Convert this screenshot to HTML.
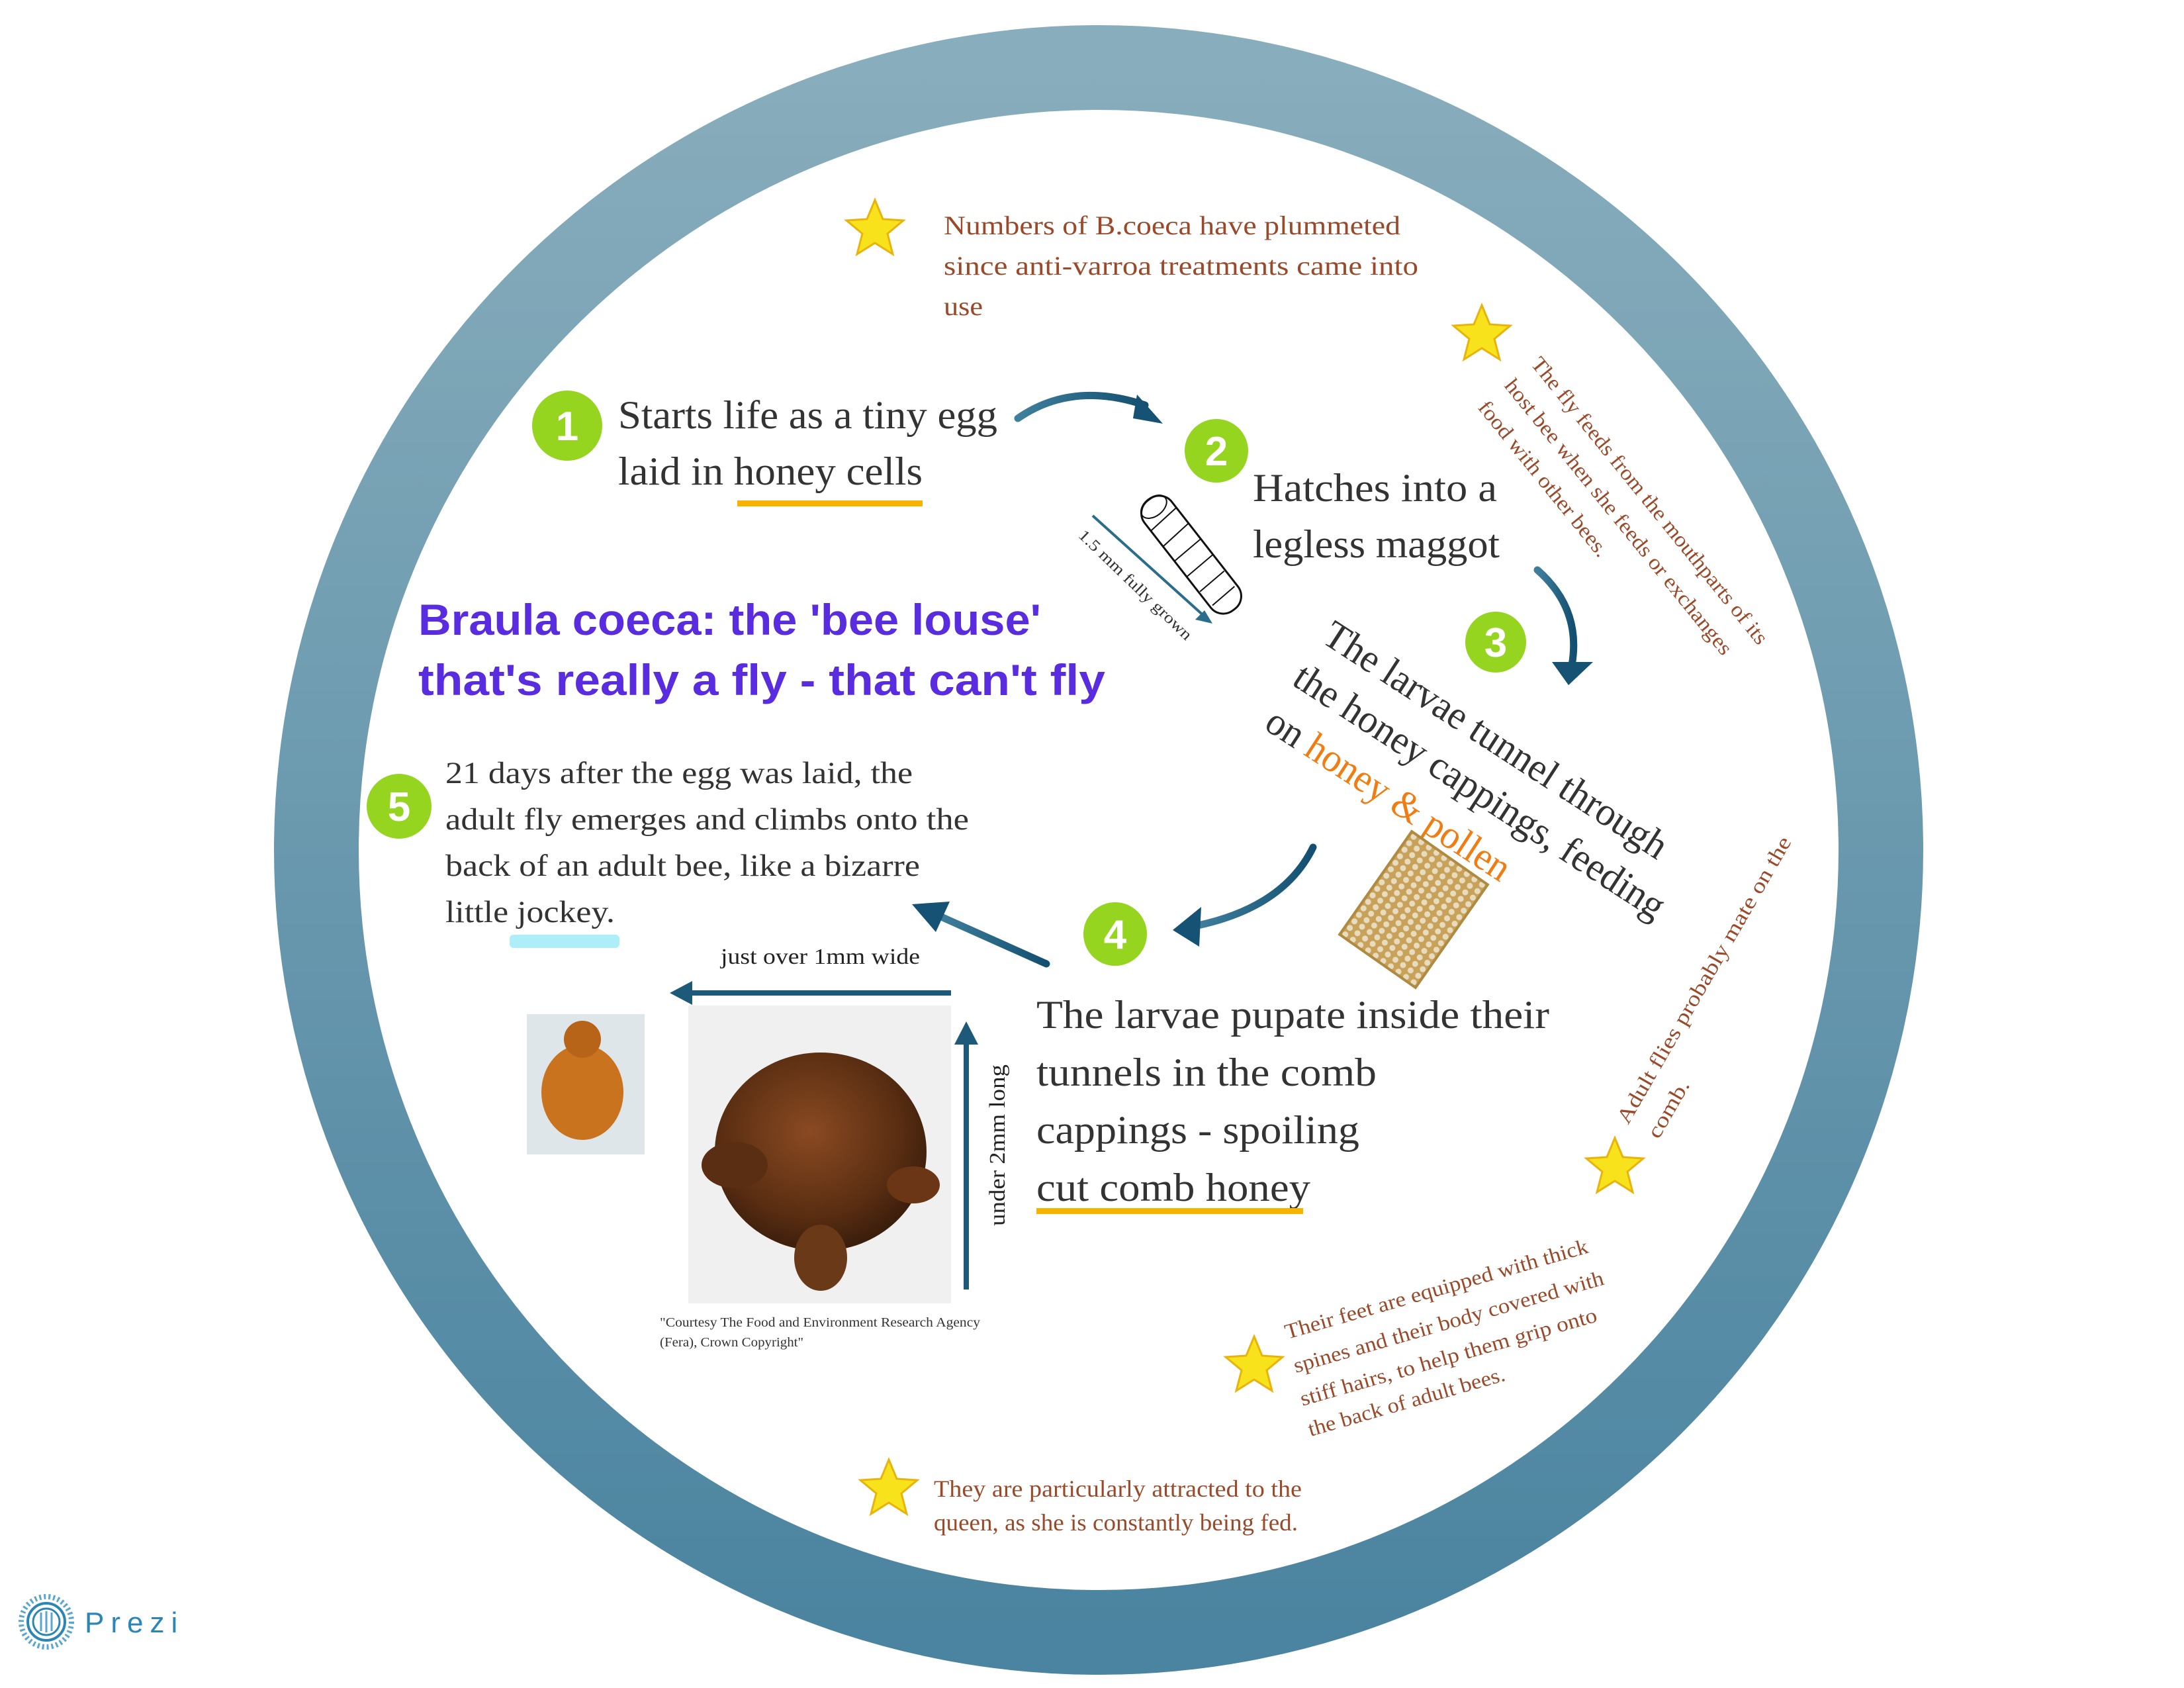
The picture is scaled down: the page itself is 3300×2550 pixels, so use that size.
<!DOCTYPE html>
<html><head><meta charset="utf-8"><style>
html,body{margin:0;padding:0;background:#fff;}
svg{display:block;}
.s{font-family:"Liberation Serif",serif;}
</style></head><body>
<svg width="3300" height="2550" viewBox="0 0 3300 2550" xmlns="http://www.w3.org/2000/svg">
<defs>
<linearGradient id="ring" x1="0" y1="0" x2="0" y2="1">
<stop offset="0" stop-color="#88adbc"/><stop offset="1" stop-color="#4b84a0"/>
</linearGradient>
<linearGradient id="arr" x1="0" y1="0" x2="1" y2="0">
<stop offset="0" stop-color="#3f7f9c"/><stop offset="1" stop-color="#134f70"/>
</linearGradient>
<radialGradient id="bug" cx="0.45" cy="0.4" r="0.6">
<stop offset="0" stop-color="#8a4a22"/><stop offset="0.7" stop-color="#5a2e12"/><stop offset="1" stop-color="#3b1e0c"/>
</radialGradient>
<pattern id="comb" width="14" height="12" patternUnits="userSpaceOnUse">
<rect width="14" height="12" fill="#c9a25a"/><circle cx="7" cy="6" r="4.5" fill="#e8dcc0"/>
</pattern>
<g id="star"><polygon points="0,-44 12,-15 43,-13 19,7 27,38 0,21 -27,38 -19,7 -43,-13 -12,-15" fill="#f7e21c" stroke="#e8b40c" stroke-width="3"/></g>
</defs>

<circle cx="1660" cy="1284" r="1182" fill="none" stroke="url(#ring)" stroke-width="128"/>

<use href="#star" x="1322" y="346"/>
<g class="s" fill="#9a4a2a" font-size="40">
<text x="1426" y="354" textLength="690" lengthAdjust="spacingAndGlyphs">Numbers of B.coeca have plummeted</text>
<text x="1426" y="415" textLength="717" lengthAdjust="spacingAndGlyphs">since anti-varroa treatments came into</text>
<text x="1426" y="476" textLength="59" lengthAdjust="spacingAndGlyphs">use</text>
</g>

<use href="#star" x="2239" y="505"/>
<g class="s" fill="#9a4a2a" font-size="32">
<text transform="translate(2312 550) rotate(51)" textLength="548" lengthAdjust="spacingAndGlyphs">The fly feeds from the mouthparts of its</text>
<text transform="translate(2272 583) rotate(51)" textLength="526" lengthAdjust="spacingAndGlyphs">host bee when she feeds or exchanges</text>
<text transform="translate(2232 616) rotate(51)" textLength="293" lengthAdjust="spacingAndGlyphs">food with other bees.</text>
</g>

<g font-family="Liberation Sans, sans-serif" font-weight="bold" fill="#fff" font-size="62" text-anchor="middle">
<circle cx="857" cy="643" r="53" fill="#95d41f"/><text x="857" y="665">1</text>
<circle cx="1838" cy="681" r="48" fill="#95d41f"/><text x="1838" y="703">2</text>
<circle cx="2260" cy="970" r="46" fill="#95d41f"/><text x="2260" y="992">3</text>
<circle cx="1685" cy="1411" r="48" fill="#95d41f"/><text x="1685" y="1433">4</text>
<circle cx="603" cy="1218" r="49" fill="#95d41f"/><text x="603" y="1240">5</text>
</g>

<g class="s" fill="#333" font-size="60">
<text x="934" y="647" textLength="573" lengthAdjust="spacingAndGlyphs">Starts life as a tiny egg</text>
<text x="934" y="732" textLength="460" lengthAdjust="spacingAndGlyphs">laid in honey cells</text>
<text x="1893" y="757" textLength="369" lengthAdjust="spacingAndGlyphs">Hatches into a</text>
<text x="1893" y="842" textLength="373" lengthAdjust="spacingAndGlyphs">legless maggot</text>
<text x="1566" y="1553" textLength="775" lengthAdjust="spacingAndGlyphs">The larvae pupate inside their</text>
<text x="1566" y="1640" textLength="514" lengthAdjust="spacingAndGlyphs">tunnels in the comb</text>
<text x="1566" y="1727" textLength="488" lengthAdjust="spacingAndGlyphs">cappings - spoiling</text>
<text x="1566" y="1814" textLength="414" lengthAdjust="spacingAndGlyphs">cut comb honey</text>
</g>
<rect x="1114" y="756" width="280" height="9" fill="#f6b400"/>
<rect x="1566" y="1825" width="403" height="9" fill="#f6b400"/>

<g class="s" fill="#333" font-size="60">
<text transform="translate(1995 969) rotate(33)" textLength="607" lengthAdjust="spacingAndGlyphs">The larvae tunnel through</text>
<text transform="translate(1950 1033) rotate(33)" textLength="656" lengthAdjust="spacingAndGlyphs">the honey cappings, feeding</text>
<text transform="translate(1908 1100) rotate(33)" textLength="428" lengthAdjust="spacingAndGlyphs">on <tspan fill="#f07c12">honey &amp; pollen</tspan></text>
</g>

<g fill="none" stroke="url(#arr)" stroke-width="11" stroke-linecap="round">
<path d="M1538 632 Q1620 575 1730 612"/>
<path d="M2323 861 Q2390 920 2375 1005"/>
<path d="M1984 1280 Q1940 1370 1810 1398"/>
<path d="M1581 1456 L1420 1384"/>
</g>
<g fill="#155273">
<polygon points="1757,640 1718,596 1712,632"/>
<polygon points="2370,1035 2407,1000 2345,1000"/>
<polygon points="1772,1405 1815,1370 1812,1430"/>
<polygon points="1378,1366 1435,1362 1414,1408"/>
</g>

<g transform="translate(1800 838) rotate(52)">
<rect x="-105" y="-26" width="210" height="52" rx="24" fill="#fff" stroke="#111" stroke-width="3"/>
<g stroke="#111" stroke-width="2">
<line x1="-70" y1="-26" x2="-66" y2="26"/><line x1="-40" y1="-26" x2="-36" y2="26"/><line x1="-10" y1="-25" x2="-8" y2="25"/>
<line x1="20" y1="-25" x2="22" y2="25"/><line x1="50" y1="-24" x2="52" y2="24"/><line x1="78" y1="-22" x2="80" y2="22"/>
</g>
<ellipse cx="-92" cy="0" rx="14" ry="22" fill="none" stroke="#111" stroke-width="2"/>
</g>
<line x1="1651" y1="779" x2="1822" y2="933" stroke="#2c6d8c" stroke-width="4"/>
<polygon points="1832,942 1806,936 1820,922" fill="#2c6d8c"/>
<text class="s" font-size="24" fill="#333" transform="translate(1628 810) rotate(44)" textLength="228" lengthAdjust="spacingAndGlyphs">1.5 mm fully grown</text>

<g transform="translate(2136 1374) rotate(35)">
<rect x="-70" y="-95" width="140" height="190" fill="url(#comb)" stroke="#b08a40" stroke-width="4"/>
</g>

<g font-family="Liberation Sans, sans-serif" font-weight="bold" fill="#5a2ce0" font-size="66">
<text x="632" y="959" textLength="941" lengthAdjust="spacingAndGlyphs">Braula coeca: the 'bee louse'</text>
<text x="632" y="1050" textLength="1038" lengthAdjust="spacingAndGlyphs">that's really a fly - that can't fly</text>
</g>

<rect x="770" y="1412" width="166" height="20" rx="6" fill="#aeeef8"/>
<g class="s" fill="#333" font-size="47">
<text x="673" y="1183" textLength="706" lengthAdjust="spacingAndGlyphs">21 days after the egg was laid, the</text>
<text x="673" y="1253" textLength="791" lengthAdjust="spacingAndGlyphs">adult fly emerges and climbs onto the</text>
<text x="673" y="1323" textLength="717" lengthAdjust="spacingAndGlyphs">back of an adult bee, like a bizarre</text>
<text x="673" y="1393" textLength="256" lengthAdjust="spacingAndGlyphs">little jockey.</text>
</g>

<text class="s" x="1089" y="1456" font-size="34" fill="#222" textLength="301" lengthAdjust="spacingAndGlyphs">just over 1mm wide</text>
<line x1="1437" y1="1500" x2="1040" y2="1500" stroke="#1d5a7a" stroke-width="8"/>
<polygon points="1012,1500 1046,1482 1046,1518" fill="#1d5a7a"/>
<line x1="1460" y1="1948" x2="1460" y2="1575" stroke="#1d5a7a" stroke-width="8"/>
<polygon points="1460,1543 1442,1578 1478,1578" fill="#1d5a7a"/>
<text class="s" font-size="34" fill="#222" transform="translate(1518 1852) rotate(-90)" textLength="244" lengthAdjust="spacingAndGlyphs">under 2mm long</text>

<rect x="796" y="1532" width="178" height="212" fill="#dfe6ea"/>
<ellipse cx="880" cy="1650" rx="62" ry="72" fill="#c9731e"/>
<circle cx="880" cy="1570" r="28" fill="#b86418"/>
<rect x="1040" y="1519" width="397" height="450" fill="#f0f0f0"/>
<ellipse cx="1240" cy="1740" rx="160" ry="150" fill="url(#bug)"/>
<ellipse cx="1110" cy="1760" rx="50" ry="35" fill="#5a2e12"/>
<ellipse cx="1380" cy="1790" rx="40" ry="28" fill="#6a3616"/>
<ellipse cx="1240" cy="1900" rx="40" ry="50" fill="#6a3a18"/>
<g class="s" font-size="20" fill="#333">
<text x="997" y="2004" textLength="484" lengthAdjust="spacingAndGlyphs">"Courtesy The Food and Environment Research Agency</text>
<text x="997" y="2034" textLength="217" lengthAdjust="spacingAndGlyphs">(Fera), Crown Copyright"</text>
</g>

<use href="#star" x="2440" y="1763"/>
<g class="s" fill="#9a4a2a" font-size="32">
<text transform="translate(2460 1700) rotate(-60)" textLength="495" lengthAdjust="spacingAndGlyphs">Adult flies probably mate on the</text>
<text transform="translate(2506 1722) rotate(-60)" textLength="96" lengthAdjust="spacingAndGlyphs">comb.</text>
</g>

<use href="#star" x="1895" y="2063"/>
<g class="s" fill="#9a4a2a" font-size="32">
<text transform="translate(1945 2023) rotate(-16)" textLength="475" lengthAdjust="spacingAndGlyphs">Their feet are equipped with thick</text>
<text transform="translate(1958 2074) rotate(-16)" textLength="486" lengthAdjust="spacingAndGlyphs">spines and their body covered with</text>
<text transform="translate(1968 2124) rotate(-16)" textLength="465" lengthAdjust="spacingAndGlyphs">stiff hairs, to help them grip onto</text>
<text transform="translate(1980 2170) rotate(-16)" textLength="308" lengthAdjust="spacingAndGlyphs">the back of adult bees.</text>
</g>

<use href="#star" x="1343" y="2249"/>
<g class="s" fill="#9a4a2a" font-size="36">
<text x="1411" y="2261" textLength="556" lengthAdjust="spacingAndGlyphs">They are particularly attracted to the</text>
<text x="1411" y="2312" textLength="550" lengthAdjust="spacingAndGlyphs">queen, as she is constantly being fed.</text>
</g>

<g transform="translate(70 2450)">
<circle r="38" fill="none" stroke="#5aa6cf" stroke-width="8" stroke-dasharray="3 4"/>
<circle r="28" fill="none" stroke="#2b86b8" stroke-width="4"/>
<circle r="20" fill="none" stroke="#2b86b8" stroke-width="3"/>
<g stroke="#5aa6cf" stroke-width="3"><line x1="-8" y1="-14" x2="-8" y2="14"/><line x1="0" y1="-16" x2="0" y2="16"/><line x1="8" y1="-14" x2="8" y2="14"/></g>
</g>
<text x="128" y="2466" font-family="Liberation Sans, sans-serif" font-size="44" fill="#2b86b8" letter-spacing="10">Prezi</text>
</svg>
</body></html>
